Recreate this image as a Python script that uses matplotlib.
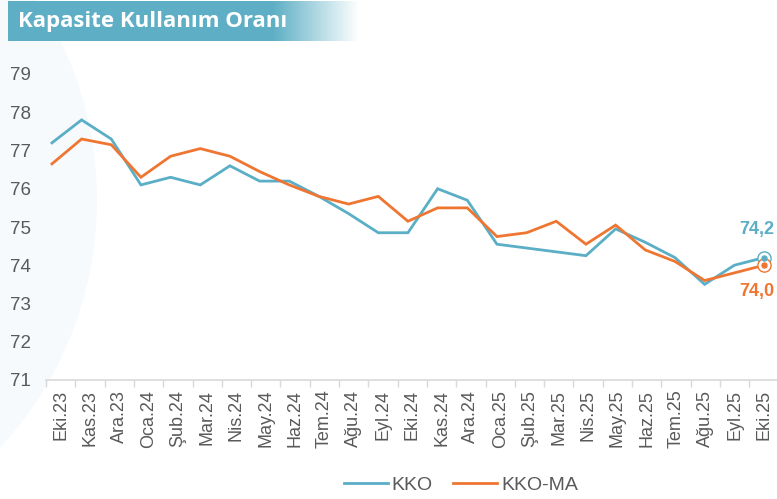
import numpy as np
import matplotlib
matplotlib.use("Agg")
import matplotlib.pyplot as plt
from matplotlib.patches import Circle

# months on the x axis
months = ["Eki.23", "Kas.23", "Ara.23", "Oca.24", "Şub.24", "Mar.24", "Nis.24",
          "May.24", "Haz.24", "Tem.24", "Ağu.24", "Eyl.24", "Eki.24", "Kas.24",
          "Ara.24", "Oca.25", "Şub.25", "Mar.25", "Nis.25", "May.25", "Haz.25",
          "Tem.25", "Ağu.25", "Eyl.25", "Eki.25"]

# capacity utilization rate
kko = [77.2, 77.8, 77.3, 76.1, 76.3, 76.1, 76.6, 76.2, 76.2, 75.8, 75.35, 74.85,
       74.85, 76.0, 75.7, 74.55, 74.45, 74.35, 74.25, 74.95, 74.6, 74.2, 73.5,
       74.0, 74.2]
# seasonally adjusted
kko_ma = [76.65, 77.3, 77.15, 76.3, 76.85, 77.05, 76.85, 76.45, 76.1, 75.8, 75.6,
          75.8, 75.15, 75.5, 75.5, 74.75, 74.85, 75.15, 74.55, 75.05, 74.4, 74.1,
          73.6, 73.8, 74.0]

last_kko = "74,2"
last_ma = "74,0"

blue = "#5aaec6"
orange = "#ef7632"
grey = "#595959"

plt.rcParams["font.family"] = ["Liberation Sans", "DejaVu Sans"]

fig = plt.figure(figsize=(7.77, 4.99), dpi=100)
W, H = 777, 499

# faint background arc on the left
bg = fig.add_axes([0, 0, 1, 1], zorder=-10)
bg.set_xlim(0, W)
bg.set_ylim(H, 0)
bg.axis("off")
bg.add_patch(Circle((-268, 200), 365, facecolor="#f6fafc", edgecolor="none"))

# title banner with fade to the right
ban = fig.add_axes([8 / W, 1 - 41 / H, 350 / W, 40 / H], zorder=5)
grad = np.ones((1, 350, 4))
c = np.array(matplotlib.colors.to_rgb("#5eafc5"))
xs = np.arange(350)
alpha = np.clip((350 - xs) / 85.0, 0, 1)
grad[0, :, :3] = c
grad[0, :, 3] = alpha
ban.imshow(grad, aspect="auto", extent=(0, 350, 0, 40))
ban.set_xlim(0, 350)
ban.set_ylim(0, 40)
ban.axis("off")
ban.text(10, 19.5, "Kapasite Kullanım Oranı", color="white", fontsize=16,
         fontweight="bold", va="center", ha="left", family=["Open Sans", "DejaVu Sans"])

# main axes
left, right = 46 / W, 778.5 / W
bottom, top = (H - 380) / H, (H - 35.75) / H
ax = fig.add_axes([left, bottom, right - left, top - bottom])
x = np.arange(len(months))
ax.set_xlim(-0.5, len(months) - 0.5)
ax.set_ylim(71, 80)
ax.set_yticks(range(71, 80))
ax.set_xticks(x)
ax.set_xticklabels(months, rotation=90, fontsize=13, color=grey)
ax.set_xticks(np.arange(-0.5, len(months)), minor=True)
ax.tick_params(axis="x", which="major", length=0, pad=7)
ax.tick_params(axis="x", which="minor", length=5, color="#d9d9d9", width=1)
ax.tick_params(axis="y", length=0, labelsize=13.5, labelcolor=grey, pad=11)
for s in ["top", "right", "left"]:
    ax.spines[s].set_visible(False)
ax.spines["bottom"].set_color("#d9d9d9")
ax.spines["bottom"].set_linewidth(1.2)
ax.patch.set_alpha(0)

# lines sit on a slightly shifted category scale
ax2 = ax.twiny()
ax2.set_xlim(-0.2, 24.49)
ax2.set_ylim(71, 80)
ax2.axis("off")
l1, = ax2.plot(x, kko, color=blue, lw=2.0, label="KKO", solid_joinstyle="miter")
l2, = ax2.plot(x, kko_ma, color=orange, lw=2.0, label="KKO-MA", solid_joinstyle="miter")

for vals, col in [(kko, blue), (kko_ma, orange)]:
    ax2.plot(x[-1], vals[-1], "o", ms=9.5, mfc="white", mec=col, mew=1.0, zorder=6)
    ax2.plot(x[-1], vals[-1], "o", ms=3.6, color=col, zorder=7)

ax2.annotate(last_kko, (x[-1], kko[-1]), xytext=(-5, 14), textcoords="offset points",
             ha="center", va="bottom", color=blue, fontsize=13, fontweight="bold")
ax2.annotate(last_ma, (x[-1], kko_ma[-1]), xytext=(-5, -13), textcoords="offset points",
             ha="center", va="top", color=orange, fontsize=13, fontweight="bold")

fig.legend(handles=[l1, l2], loc="center", bbox_to_anchor=(461 / W, 1 - 485 / H),
           ncol=2, frameon=False, fontsize=14, handlelength=2.25, columnspacing=1.05,
           handletextpad=0.2, labelcolor=grey, borderpad=0)

fig.savefig("out.png", dpi=100)
